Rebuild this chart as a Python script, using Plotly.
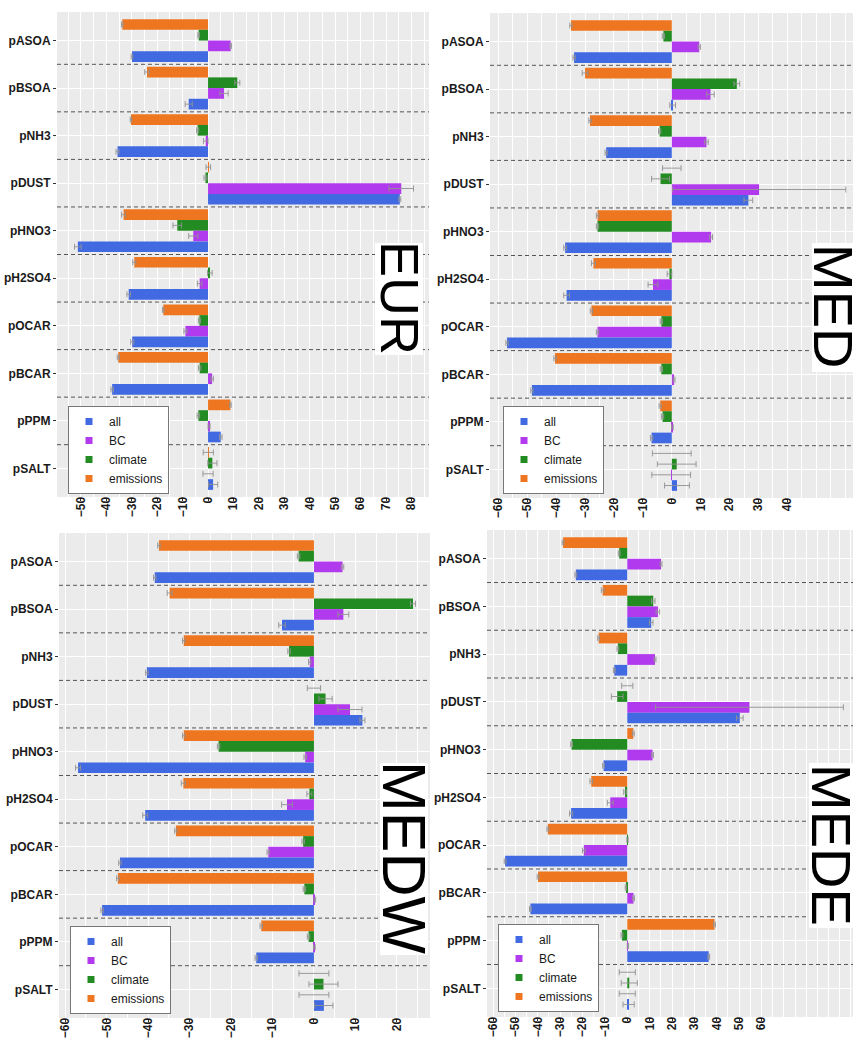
import plotly.graph_objects as go

# ---------------- data ----------------
categories = ["pASOA", "pBSOA", "pNH3", "pDUST", "pHNO3",
              "pH2SO4", "pOCAR", "pBCAR", "pPPM", "pSALT"]
series_names = ["all", "BC", "climate", "emissions"]

eur_all = [-29.9, -7.6, -35.6, 75.4, -51.2, -31.2, -29.8, -37.7, 5.0, 2.0]
eur_bc = [8.9, 6.3, -0.9, 76.0, -5.8, -3.3, -8.9, 1.6, 0.4, 0.0]
eur_climate = [-3.7, 11.5, -4.1, -1.0, -12.1, 0.7, -3.4, -3.3, -3.8, 1.7]
eur_emissions = [-33.7, -24.0, -30.3, 0.1, -33.2, -29.0, -17.6, -35.3, 8.8, 0.1]
eur_all_err = [0.3, 1.4, 0.6, 0.4, 1.3, 0.7, 0.6, 0.5, 0.5, 1.8]
eur_bc_err = [0.3, 1.6, 0.9, 4.8, 1.8, 0.9, 0.6, 0.5, 0.4, 2.0]
eur_climate_err = [0.3, 1.0, 0.4, 0.6, 1.7, 0.9, 0.4, 0.5, 0.5, 1.8]
eur_emissions_err = [0.3, 0.9, 0.3, 0.9, 0.8, 0.6, 0.3, 0.4, 0.3, 2.0]

med_all = [-33.8, 0.3, -22.7, 26.5, -36.9, -36.4, -57.0, -48.4, -7.0, 1.8]
med_bc = [9.5, 13.4, 12.0, 30.2, 13.6, -6.5, -25.7, 0.8, 0.2, -0.2]
med_climate = [-2.9, 22.5, -4.2, -3.9, -25.7, -0.8, -3.6, -3.6, -3.2, 1.7]
med_emissions = [-34.9, -30.0, -28.3, 0.0, -25.7, -27.1, -27.8, -40.4, -4.0, 0.0]
med_all_err = [0.4, 1.0, 0.4, 1.5, 0.5, 1.0, 0.4, 0.4, 0.4, 4.3]
med_bc_err = [0.4, 1.3, 0.6, 30.0, 0.5, 1.7, 0.4, 0.3, 0.3, 6.7]
med_climate_err = [0.4, 1.0, 0.4, 3.1, 0.4, 0.8, 0.4, 0.4, 0.4, 6.7]
med_emissions_err = [0.4, 1.0, 0.4, 3.2, 0.4, 0.7, 0.4, 0.4, 0.4, 6.7]

medw_all = [-38.4, -7.7, -40.3, 11.7, -56.9, -40.7, -46.8, -51.1, -13.9, 2.4]
medw_bc = [6.9, 7.1, -1.0, 8.7, -2.1, -6.5, -11.0, 0.2, 0.1, 0.0]
medw_climate = [-3.7, 23.9, -6.0, 2.8, -23.0, -1.1, -2.6, -2.3, -1.3, 2.3]
medw_emissions = [-37.4, -34.8, -31.4, 0.0, -31.4, -31.5, -33.3, -47.3, -12.7, 0.0]
medw_all_err = [0.3, 0.8, 0.3, 0.6, 0.6, 0.6, 0.3, 0.3, 0.3, 2.2]
medw_bc_err = [0.3, 1.3, 0.3, 2.9, 0.3, 1.3, 0.3, 0.2, 0.2, 3.6]
medw_climate_err = [0.3, 0.6, 0.3, 1.6, 0.3, 0.6, 0.3, 0.3, 0.3, 3.5]
medw_emissions_err = [0.3, 0.6, 0.3, 1.6, 0.3, 0.5, 0.3, 0.3, 0.3, 3.6]

mede_all = [-23.0, 10.7, -5.8, 50.3, -10.6, -25.1, -54.6, -43.3, 36.4, 0.6]
mede_bc = [15.1, 13.7, 12.4, 54.6, 11.3, -7.6, -19.4, 2.8, 0.3, 0.0]
mede_climate = [-3.6, 11.6, -4.2, -4.5, -24.9, -1.0, 0.1, -0.6, -2.4, 0.9]
mede_emissions = [-28.7, -11.0, -12.8, 0.0, 2.7, -16.1, -35.5, -39.9, 39.0, 0.0]
mede_all_err = [0.4, 0.8, 0.4, 1.5, 0.4, 0.7, 0.4, 0.4, 0.4, 2.5]
mede_bc_err = [0.4, 0.8, 0.4, 42.0, 0.4, 1.3, 0.6, 0.4, 0.3, 3.6]
mede_climate_err = [0.4, 0.8, 0.4, 2.6, 0.4, 0.6, 0.3, 0.3, 0.4, 3.6]
mede_emissions_err = [0.4, 0.6, 0.4, 2.5, 0.4, 0.6, 0.4, 0.4, 0.4, 3.6]

eur_ticks = [-50, -40, -30, -20, -10, 0, 10, 20, 30, 40, 50, 60, 70, 80]
med_ticks = [-60, -50, -40, -30, -20, -10, 0, 10, 20, 30, 40]
medw_ticks = [-60, -50, -40, -30, -20, -10, 0, 10, 20]
mede_ticks = [-60, -50, -40, -30, -20, -10, 0, 10, 20, 30, 40, 50, 60]

# ---------------- styling ----------------
W, H = 853, 1041
colors = {"all": "#4169E1", "BC": "#B23AEE", "climate": "#228B22", "emissions": "#EE7621"}
FONT = "Liberation Sans, Arial, sans-serif"

panels = [
    dict(name="EUR", ticks=eur_ticks,
         vals={"all": eur_all, "BC": eur_bc, "climate": eur_climate, "emissions": eur_emissions},
         errs={"all": eur_all_err, "BC": eur_bc_err, "climate": eur_climate_err, "emissions": eur_emissions_err},
         px=(57, 429), py=(12, 497), xr=(-59.4, 86.9),
         lab=dict(cx=400, cy=298, size=54, box=(375, 243, 423, 355)),
         leg=(68, 450)),
    dict(name="MED", ticks=med_ticks,
         vals={"all": med_all, "BC": med_bc, "climate": med_climate, "emissions": med_emissions},
         errs={"all": med_all_err, "BC": med_bc_err, "climate": med_climate_err, "emissions": med_emissions_err},
         px=(490, 853), py=(13, 498), xr=(-62.9, 62.7),
         lab=dict(cx=834, cy=306, size=56, box=(812, 243, 860, 372)),
         leg=(503, 450)),
    dict(name="MEDW", ticks=medw_ticks,
         vals={"all": medw_all, "BC": medw_bc, "climate": medw_climate, "emissions": medw_emissions},
         errs={"all": medw_all_err, "BC": medw_bc_err, "climate": medw_climate_err, "emissions": medw_emissions_err},
         px=(59, 430), py=(533, 1018), xr=(-61.5, 28.0),
         lab=dict(cx=404, cy=858, size=61, box=(380, 763, 428, 955)),
         leg=(70, 970)),
    dict(name="MEDE", ticks=mede_ticks,
         vals={"all": mede_all, "BC": mede_bc, "climate": mede_climate, "emissions": mede_emissions},
         errs={"all": mede_all_err, "BC": mede_bc_err, "climate": mede_climate_err, "emissions": mede_emissions_err},
         px=(487, 853), py=(530, 1017), xr=(-62.7, 100.9),
         lab=dict(cx=832, cy=845, size=56, box=(809, 763, 860, 928)),
         leg=(498, 968)),
]

fig = go.Figure()
layout = dict(
    width=W, height=H, autosize=False,
    margin=dict(l=0, r=0, t=0, b=0),
    paper_bgcolor="white", plot_bgcolor="#EBEBEB",
    barmode="group", bargap=0.1, bargroupgap=0,
    font=dict(family=FONT, color="#1a1a1a"),
    showlegend=True,
)
shapes = []
annotations = []

for i, p in enumerate(panels):
    k = "" if i == 0 else str(i + 1)
    xa, ya = "x" + k, "y" + k
    legname = "legend" + k
    # bars: top-to-bottom order within a category
    for s in ["emissions", "climate", "BC", "all"]:
        fig.add_trace(go.Bar(
            x=p["vals"][s], y=categories, orientation="h",
            marker=dict(color=colors[s], line=dict(width=0)),
            error_x=dict(type="data", array=p["errs"][s], color="rgba(145,145,145,0.9)",
                         thickness=1, width=3),
            xaxis=xa, yaxis=ya, showlegend=False, name=s,
        ))
    # legend entries (small squares)
    for s in series_names:
        fig.add_trace(go.Scatter(
            x=[None], y=[None], mode="markers", name=s,
            marker=dict(symbol="square", size=7, color=colors[s]),
            xaxis=xa, yaxis=ya, legend=legname, showlegend=True,
        ))
    x0, x1 = p["px"]
    y0, y1 = p["py"]
    layout["xaxis" + k] = dict(
        domain=[x0 / W, min(x1 / W, 1.0)], range=list(p["xr"]), anchor=ya,
        tickmode="array", tickvals=p["ticks"],
        ticktext=[str(t).replace("-", "\u2212") for t in p["ticks"]],
        tickangle=-90, ticks="outside", ticklen=3, tickcolor="#333333",
        ticklabelstandoff=-9,
        tickfont=dict(size=12, color="#1a1a1a", family=FONT, weight="bold"),
        showgrid=True, gridcolor="white", gridwidth=1.1, zeroline=False,
        minor=dict(dtick=5, tick0=0, showgrid=True, gridcolor="white", gridwidth=0.5),
        showline=False,
    )
    layout["yaxis" + k] = dict(
        domain=[1 - y1 / H, 1 - y0 / H], anchor=xa, type="category",
        categoryorder="array", categoryarray=categories, range=[9.6, -0.6],
        ticks="outside", ticklen=3, tickcolor="#333333",
        tickfont=dict(size=12, color="#1a1a1a", family=FONT, weight="bold"),
        showgrid=True, gridcolor="white", gridwidth=1.1, zeroline=False, showline=False,
    )
    lx, ly = p["leg"]
    layout[legname] = dict(
        x=lx / W, y=1 - ly / H, xanchor="left", yanchor="middle",
        bgcolor="white", bordercolor="#777777", borderwidth=1,
        font=dict(size=12, color="#1a1a1a", family=FONT),
        tracegroupgap=0, itemwidth=30, traceorder="normal",
    )
    for j in range(len(categories) - 1):
        shapes.append(dict(
            type="line", xref=xa + " domain", yref=ya, x0=0, x1=1, y0=j + 0.5, y1=j + 0.5,
            line=dict(color="#555555", width=1, dash="4px,3px"), layer="above",
        ))
    lab = p["lab"]
    bx0, by0, bx1, by1 = lab["box"]
    shapes.append(dict(
        type="rect", xref="paper", yref="paper",
        x0=bx0 / W, x1=bx1 / W, y0=1 - by1 / H, y1=1 - by0 / H,
        fillcolor="white", line=dict(width=0), layer="above",
    ))
    annotations.append(dict(
        text=p["name"], xref="paper", yref="paper",
        x=lab["cx"] / W, y=1 - lab["cy"] / H, xanchor="center", yanchor="middle",
        showarrow=False, textangle=90,
        font=dict(size=lab["size"], color="black", family=FONT),
    ))

layout["shapes"] = shapes
layout["annotations"] = annotations
fig.update_layout(**layout)
fig.write_html(
    "out.html",
    config={"displayModeBar": False},
    post_script="document.body.style.margin='0';document.body.style.padding='0';document.body.style.overflow='hidden';",
)
